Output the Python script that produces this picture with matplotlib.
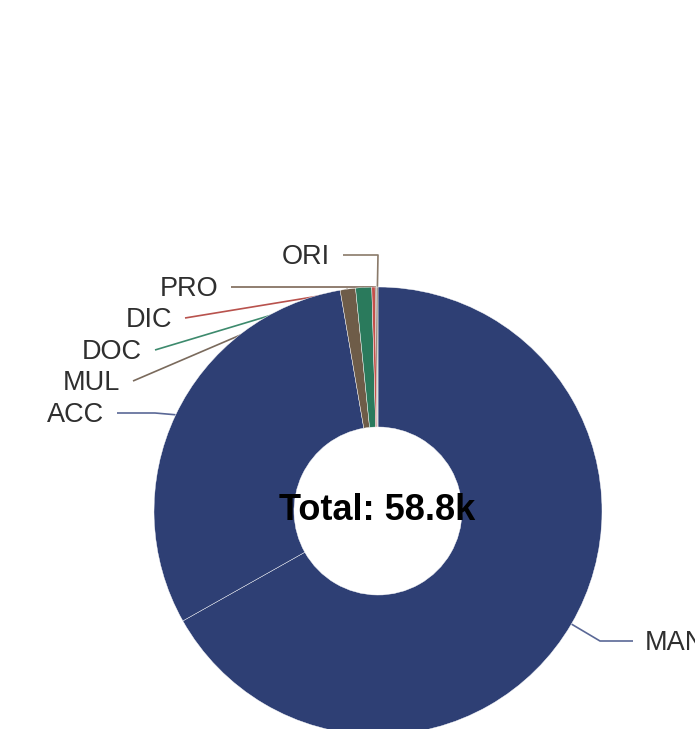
import numpy as np
import matplotlib.pyplot as plt

plt.rcParams['font.family'] = ['Liberation Sans', 'DejaVu Sans']

categories = ['MAN', 'ACC', 'MUL', 'DOC', 'DIC', 'PRO', 'ORI']
counts = [39300, 17910, 650, 680, 140, 70, 50]
colors = ['#2e3f74', '#2e3f74', '#6e5c48', '#2a7a5c', '#c4504a', '#7a6454', '#8c7f70']
line_colors = ['#5a6896', '#5a6896', '#7a6a5c', '#3d8a6d', '#b8524d', '#7d6858', '#8a7a6a']
total_label = 'Total: 58.8k'

# layout in screen pixels (y measured from top)
W, H = 695, 729
cx, cy = 378, 511
r_out, r_in = 224, 84
# where the label line ends (next to the text) and its elbow
line_end = {'MAN': (633, 641), 'ACC': (117, 413), 'MUL': (133, 381), 'DOC': (155, 350),
            'DIC': (185, 318), 'PRO': (231, 287), 'ORI': (343, 255)}
elbow = {'MAN': (600, 641), 'ACC': (155, 413), 'MUL': None, 'DOC': None,
         'DIC': None, 'PRO': None, 'ORI': (378, 255)}

fig = plt.figure(figsize=(W / 100, H / 100), dpi=100)
ax = fig.add_axes([0, 0, 1, 1])

wedges, _ = ax.pie(counts, colors=colors, startangle=90, counterclock=False,
                   center=(cx, H - cy), radius=r_out,
                   wedgeprops=dict(width=r_out - r_in, edgecolor='#ffffff', linewidth=0.3))
for w in wedges:
    w.set_zorder(3)

# pie() resets the limits, so set them afterwards
ax.set_xlim(0, W)
ax.set_ylim(0, H)
ax.set_aspect('equal')
ax.axis('off')

# label lines go under the ring, from the wedge edge to the label
for w, name, lc in zip(wedges, categories, line_colors):
    mid = np.deg2rad((w.theta1 + w.theta2) / 2)
    ex = cx + r_out * np.cos(mid)
    ey = (H - cy) + r_out * np.sin(mid)
    xs, ys = [ex], [ey]
    if elbow[name] is not None:
        xs.append(elbow[name][0])
        ys.append(H - elbow[name][1])
    xs.append(line_end[name][0])
    ys.append(H - line_end[name][1])
    ax.plot(xs, ys, color=lc, lw=1.2, zorder=1, solid_capstyle='butt')
    tx, ty = line_end[name]
    if tx > cx:
        ax.text(tx + 12, H - ty - 2, name, ha='left', va='center', fontsize=19.5, color='#2f2f2f')
    else:
        ax.text(tx - 13, H - ty - 2, name, ha='right', va='center', fontsize=19.5, color='#2f2f2f')

ax.text(cx - 1, H - cy, total_label, ha='center', va='center', fontsize=26,
        fontweight='bold', color='#000000', zorder=5)

fig.savefig('out.png', dpi=100)
